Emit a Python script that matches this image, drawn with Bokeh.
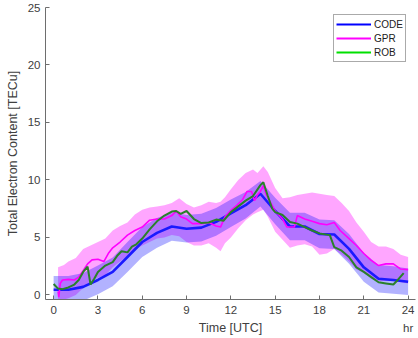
from bokeh.plotting import figure
from bokeh.models import Range1d, Legend, LegendItem, FixedTicker
from bokeh.embed import file_html
from bokeh.resources import INLINE

# ---- data ----
code_t = list(range(0, 25))
code_tec = [0.45, 0.45, 0.7, 1.3, 2.0, 3.3, 4.6, 5.4, 5.95, 5.75, 5.85, 6.35, 7.1,
            7.8, 8.8, 7.3, 5.95, 5.95, 5.3, 5.25, 4.0, 2.4, 1.4, 1.3, 1.15]
code_rms = [1.2, 1.2, 1.2, 1.25, 1.25, 1.3, 1.3, 1.3, 1.25, 1.2, 1.2, 1.2, 1.2,
            1.15, 1.1, 1.15, 1.2, 1.2, 1.25, 1.25, 1.3, 1.25, 1.2, 1.2, 1.15]

gpr_t = [0.3, 0.35, 0.45, 0.6, 1.0, 1.4, 1.7, 2.0, 2.3, 2.6, 3.0, 3.4, 3.7, 4.0, 4.5,
         5.0, 5.5, 6.0, 6.5, 7.0, 7.5, 8.0, 8.3, 8.6, 9.0, 9.4, 10.0, 10.5, 11.0, 11.3,
         11.6, 12.0, 12.4, 12.8, 13.1, 13.4, 13.6, 13.8, 14.0, 14.2, 14.4, 14.7, 15.0,
         15.5, 15.8, 16.3, 16.5, 17.0, 17.5, 18.0, 18.5, 19.0, 19.4, 20.0, 20.5, 21.0,
         21.5, 22.0, 22.5, 23.0, 23.5, 24.0]
gpr_tec = [0.3, -0.2, 1.0, 1.3, 1.35, 1.3, 1.55, 2.1, 2.7, 3.05, 3.1, 2.9, 3.6, 4.1, 4.6,
           5.2, 5.6, 5.9, 6.5, 6.6, 6.6, 6.9, 7.3, 6.8, 6.6, 6.2, 6.2, 6.3, 6.0, 5.9,
           6.8, 7.35, 7.8, 8.3, 9.0, 9.0, 8.2, 8.7, 9.0, 9.5, 8.7, 8.0, 7.3,
           6.6, 5.9, 5.9, 6.9, 6.6, 6.4, 6.2, 6.1, 6.3, 5.6, 4.9, 4.3, 3.6,
           3.0, 2.55, 2.7, 2.7, 2.25, 2.2]

gpr_band_t = [0.3, 0.7, 1.0, 1.5, 2.0, 2.5, 3.0, 3.5, 4.0, 4.5, 5.0, 5.5, 6.0, 6.5, 7.0,
              7.5, 8.0, 8.5, 9.0, 9.5, 10.0, 10.5, 11.0, 11.3, 11.6, 12.0, 12.5, 13.0,
              13.5, 13.8, 14.2, 14.5, 15.0, 15.5, 16.0, 16.5, 17.0, 17.5, 18.0, 18.5,
              19.0, 19.5, 20.0, 20.5, 21.0, 21.5, 22.0, 22.5, 23.0, 23.5, 24.0]
gpr_upper = [2.4, 2.6, 2.9, 3.2, 4.0, 4.3, 4.6, 4.9, 5.6, 6.0, 6.3, 7.0, 7.4, 7.6, 7.7,
             7.8, 8.0, 8.4, 7.9, 7.6, 7.8, 8.1, 8.0, 8.1, 8.5, 9.2, 10.0, 10.6,
             10.9, 10.6, 11.2, 10.7, 9.3, 8.4, 8.5, 8.7, 8.8, 8.9, 8.8, 8.7,
             8.6, 8.0, 7.3, 6.3, 5.5, 4.6, 4.2, 4.2, 4.0, 3.5, 3.3]
gpr_lower = [-0.5, -0.4, -0.3, 0.0, 0.6, 1.2, 1.5, 1.7, 2.4, 2.9, 3.4, 3.9, 4.3, 4.6, 4.9,
             5.0, 5.2, 5.1, 4.6, 4.3, 4.3, 4.5, 4.1, 3.8, 4.5, 5.0, 5.8, 6.5,
             7.0, 7.2, 7.4, 6.8, 5.5, 4.8, 4.1, 4.3, 4.4, 4.2, 3.5, 3.6,
             4.0, 3.5, 2.9, 2.2, 1.9, 1.4, 1.2, 1.2, 1.2, 1.1, 1.0]

rob_t = [0.0, 0.3, 0.6, 1.0, 1.4, 1.7, 2.0, 2.3, 2.5, 2.75, 3.0, 3.5, 4.0, 4.3, 4.6, 5.0,
         5.3, 5.6, 6.0, 6.5, 7.0, 7.5, 8.0, 8.3, 8.6, 9.0, 9.5, 10.0, 10.5, 11.0, 11.5,
         12.0, 12.5, 13.0, 13.5, 14.0, 14.2, 14.5, 14.8, 15.0, 15.5, 16.0, 16.5, 17.0,
         17.5, 18.0, 18.7, 19.0, 19.5, 20.0, 20.5, 21.0, 21.5, 22.0, 22.5, 23.0, 23.3, 23.7]
rob_tec = [0.95, 0.55, 0.5, 0.65, 0.9, 1.3, 2.0, 2.45, 0.9, 1.4, 2.0, 2.55, 2.85, 3.4, 3.8, 3.7,
           4.2, 4.4, 4.9, 5.7, 6.4, 6.9, 7.25, 7.3, 7.05, 7.3, 6.6, 6.25, 6.3, 6.55, 6.45,
           7.2, 7.7, 8.2, 8.6, 9.55, 9.8, 8.6, 7.5, 7.2, 6.95, 6.35, 6.2, 5.9,
           5.6, 5.35, 5.2, 4.15, 3.85, 3.3, 2.4, 2.0, 1.55, 1.1, 1.0, 0.9, 1.3, 1.9]

x_ticks = [0, 3, 6, 9, 12, 15, 18, 21, 24]
y_ticks = [0, 5, 10, 15, 20, 25]
x_unit = "hr"
series_names = ["CODE", "GPR", "ROB"]

FONT = "Liberation Sans"
TXT = "#404040"
AX = "#6e6e6e"

p = figure(width=418, height=338, output_backend="svg", toolbar_location=None,
           x_range=Range1d(-0.55, 24.5), y_range=Range1d(-0.4, 25),
           min_border_left=45, min_border_right=3, min_border_top=7, min_border_bottom=39)
p.outline_line_color = None
p.xgrid.visible = False
p.ygrid.visible = False

code_lo = [v - r for v, r in zip(code_tec, code_rms)]
code_hi = [v + r for v, r in zip(code_tec, code_rms)]

p.varea(x=gpr_band_t, y1=gpr_lower, y2=gpr_upper, fill_color="#ff00ff", fill_alpha=0.35)
p.varea(x=code_t, y1=code_lo, y2=code_hi, fill_color="#0000ff", fill_alpha=0.3)

p.line(code_t, code_tec, line_color="#1a1aff", line_width=2.6)
p.line(gpr_t, gpr_tec, line_color="#ff00ff", line_width=1.6)
p.line(rob_t, rob_tec, line_color="#2a802a", line_width=2.0)

# legend proxies (kept outside the visible ranges)
off_x = [-20, -19]
off_y = [-20, -20]
r1 = p.line(x=off_x, y=off_y, line_color="#0000ff", line_width=2.2)
r2 = p.line(x=off_x, y=off_y, line_color="#ff00ff", line_width=2.2)
r3 = p.line(x=off_x, y=off_y, line_color="#00e000", line_width=2.2)
legend = Legend(items=[LegendItem(label=series_names[0], renderers=[r1]),
                       LegendItem(label=series_names[1], renderers=[r2]),
                       LegendItem(label=series_names[2], renderers=[r3])],
                location=(288, 237))
legend.label_text_font = FONT
legend.label_text_font_size = "10px"
legend.label_text_color = "#202020"
legend.glyph_width = 35
legend.glyph_height = 14
legend.label_height = 14
legend.label_standoff = 3
legend.spacing = 0
legend.padding = 2
legend.margin = 0
legend.border_line_color = "#555555"
legend.border_line_width = 1
legend.background_fill_alpha = 1
p.add_layout(legend)

for ax in (p.xaxis[0], p.yaxis[0]):
    ax.axis_line_color = AX
    ax.major_tick_line_color = AX
    ax.major_tick_in = 4
    ax.major_tick_out = 0
    ax.minor_tick_line_color = None
    ax.major_label_text_font = FONT
    ax.major_label_text_font_size = "11.5px"
    ax.major_label_text_color = TXT
    ax.axis_label_text_font = FONT
    ax.axis_label_text_font_size = "12.5px"
    ax.axis_label_text_font_style = "normal"
    ax.axis_label_text_color = TXT

p.xaxis.ticker = FixedTicker(ticks=x_ticks)
p.yaxis.ticker = FixedTicker(ticks=y_ticks)
p.xaxis.major_label_overrides = {x_ticks[-1]: f"{x_ticks[-1]}\n{x_unit}"}
p.xaxis.major_label_text_line_height = 1.55
p.xaxis.axis_label = "Time [UTC]"
p.yaxis.axis_label = "Total Electron Content [TECu]"
p.xaxis.major_label_standoff = 4
p.xaxis.axis_label_standoff = -16
p.yaxis.major_label_standoff = 5
p.yaxis.axis_label_standoff = 5

open("out.html", "w").write(file_html(p, INLINE))
